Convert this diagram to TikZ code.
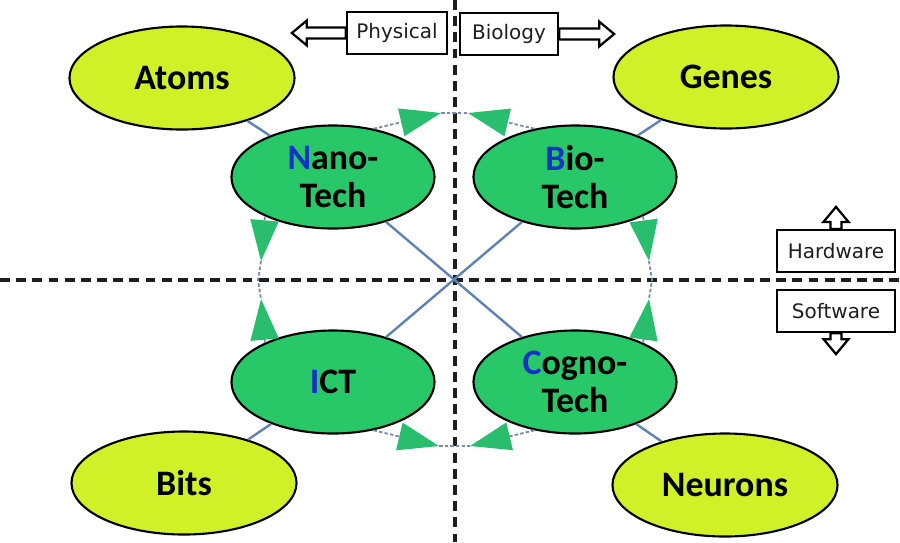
\documentclass[tikz,border=0pt]{standalone}
\usepackage{fontspec}
\setmainfont{Carlito}
\newfontfamily\boxfont{DejaVu Sans}
\usetikzlibrary{arrows.meta,shapes.geometric}
\definecolor{MatterClr}{RGB}{208,240,40}
\definecolor{TechClr}{RGB}{40,200,105}
\definecolor{TipClr}{RGB}{40,190,110}
\definecolor{SpokeClr}{RGB}{95,130,180}
\definecolor{LinkClr}{RGB}{120,140,175}
\definecolor{InitClr}{RGB}{20,50,200}
\definecolor{AxisClr}{RGB}{30,30,30}

\tikzset{
  blockarrow/.pic={
    \draw[line width=1.6pt,fill=white] (0,-5.5) -- (#1-15,-5.5) -- (#1-15,-12.5)
      -- (#1,0) -- (#1-15,12.5) -- (#1-15,5.5) -- (0,5.5) -- cycle;
  }
}

\begin{document}
\begin{tikzpicture}[x=0.025cm,y=-0.025cm,
  matter/.style={ellipse,draw,line width=1.5pt,fill=MatterClr,inner sep=0pt,
    minimum width=5.625cm,minimum height=2.575cm,
    font=\bfseries\fontsize{25.5}{27}\selectfont},
  tech/.style={matter,fill=TechClr,minimum width=5.075cm,align=center},
  spoke/.style={draw=SpokeClr,line width=1.7pt},
  axis/.style={draw=AxisClr,line width=2.2pt,dash pattern=on 7pt off 4.5pt},
  linkline/.style={draw=LinkClr,line width=1.3pt,dash pattern=on 2.5pt off 1.5pt},
  link/.style={linkline,-{Triangle[length=1.02cm,width=0.7cm,color=TipClr]}},
  tagbox/.style={draw,line width=1.6pt,fill=white,inner sep=0pt,text=AxisClr,
    minimum height=1.05cm,font=\boxfont\fontsize{14.2}{16}\selectfont}]
\useasboundingbox (0,0) rectangle (900,542);

% quadrant axes
\draw[axis] (455,0) -- (455,542);
\draw[axis] (0,280) -- (900,280);

% outer fields
\node[matter] (atoms) at (182,78) {Atoms};
\node[matter] (genes) at (726,77) {Genes};
\node[matter] (bits) at (184,483) {Bits};
\node[matter] (neurons) at (725,485) {Neurons};

% the four technologies
\node[tech] (nano) at (333,177) {\textcolor{InitClr}{N}ano-\\Tech};
\node[tech] (bio) at (575,177) {\textcolor{InitClr}{B}io-\\Tech};
\node[tech] (ict) at (333,382) {\textcolor{InitClr}{I}CT};
\node[tech] (cogno) at (575,382) {\textcolor{InitClr}{C}ogno-\\Tech};

\draw[spoke] (atoms) -- (nano) (nano) -- (cogno) (cogno) -- (neurons);
\draw[spoke] (genes) -- (bio) (bio) -- (ict) (ict) -- (bits);

% convergence links
\coordinate (tl) at (441,113);
\coordinate (tr) at (468,113);
\coordinate (bl) at (439,446);
\coordinate (br) at (470,446);
\coordinate (lu) at (261,261);
\coordinate (lm) at (258,280);
\coordinate (ld) at (261,299);
\coordinate (ru) at (649,261);
\coordinate (rm) at (652,280);
\coordinate (rd) at (649,299);

\draw[link] (nano.50) -- (tl);
\draw[link] (bio.130) -- (tr);
\draw[linkline] (tl) -- (tr);
\draw[link] (ict.-50) -- (bl);
\draw[link] (cogno.230) -- (br);
\draw[linkline] (bl) -- (br);
\draw[link] (nano.210) -- (lu);
\draw[link] (ict.150) -- (ld);
\draw[linkline] (lu) -- (lm) -- (ld);
\draw[link] (bio.-30) -- (ru);
\draw[link] (cogno.30) -- (rd);
\draw[linkline] (ru) -- (rm) -- (rd);

% direction tags
\node[tagbox,minimum width=2.5cm] (physical) at (397,33) {Physical};
\node[tagbox,minimum width=2.45cm] (biology) at (509,34) {Biology};
\node[tagbox,minimum width=2.95cm] (hardware) at (836,251) {Hardware};
\node[tagbox,minimum width=2.95cm] (software) at (836,311) {Software};

\pic[rotate=180] at (physical.west) {blockarrow=54};
\pic at (biology.east) {blockarrow=55};
\pic[rotate=90] at (hardware.north) {blockarrow=22};
\pic[rotate=-90] at (software.south) {blockarrow=21};

\end{tikzpicture}
\end{document}
